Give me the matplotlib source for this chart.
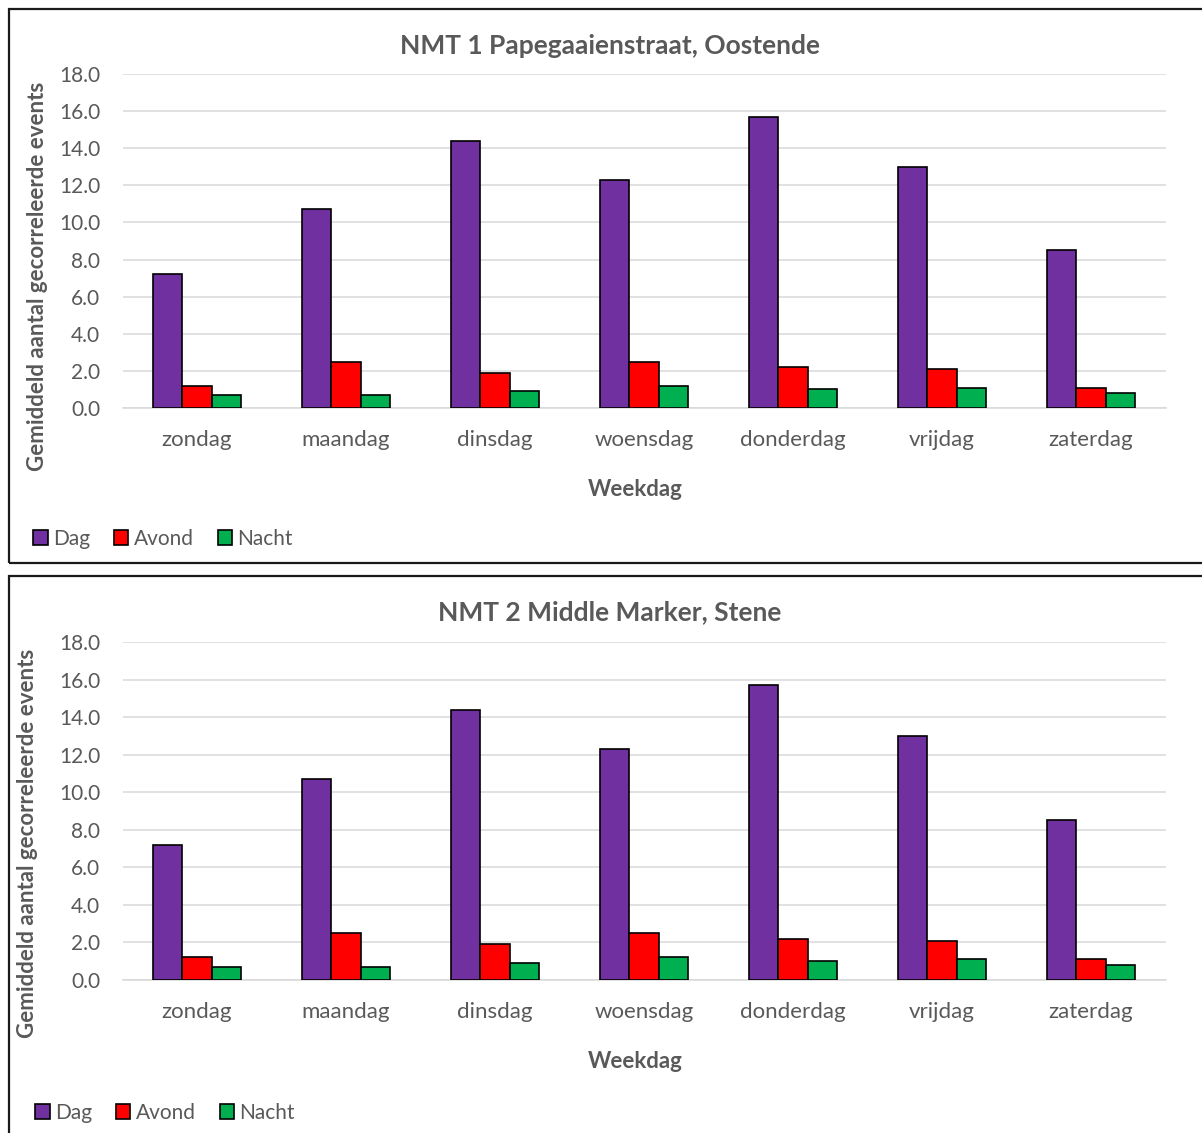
import numpy as np
import matplotlib.pyplot as plt
from matplotlib.patches import Rectangle

plt.rcParams['font.family'] = ['Lato', 'DejaVu Sans']

GRAY_TEXT = '#595959'
GRID = '#D9D9D9'
COLORS = ['#7030A0', '#FF0000', '#00B050']

weekdagen = ['zondag', 'maandag', 'dinsdag', 'woensdag', 'donderdag', 'vrijdag', 'zaterdag']
reeksen = ['Dag', 'Avond', 'Nacht']

# NMT 1 Papegaaienstraat
nmt1_dag = [7.2, 10.7, 14.4, 12.3, 15.7, 13.0, 8.5]
nmt1_avond = [1.2, 2.5, 1.9, 2.5, 2.2, 2.1, 1.1]
nmt1_nacht = [0.7, 0.7, 0.9, 1.2, 1.0, 1.1, 0.8]

# NMT 2 Middle Marker
nmt2_dag = [7.2, 10.7, 14.4, 12.3, 15.7, 13.0, 8.5]
nmt2_avond = [1.2, 2.5, 1.9, 2.5, 2.2, 2.1, 1.1]
nmt2_nacht = [0.7, 0.7, 0.9, 1.2, 1.0, 1.1, 0.8]

y_ticks = [0, 2, 4, 6, 8, 10, 12, 14, 16, 18]

W, H = 1202, 1133


def fx(px):
    return px / W


def fy(py):
    return 1 - py / H


def draw_panel(fig, box, axes_px, title, title_y, ylab_xy, xlab_y, leg, reeks_data):
    # kader rond het paneel
    x0, y0, x1, y1 = box
    fig.patches.append(Rectangle((fx(x0), fy(y1)), fx(x1 - x0), (y1 - y0) / H,
                                 transform=fig.transFigure, fill=False,
                                 edgecolor='#1a1a1a', linewidth=1.6, zorder=0))

    left, top, right, bottom = axes_px
    ax = fig.add_axes([fx(left), fy(bottom), fx(right - left), (bottom - top) / H])

    x = np.arange(len(weekdagen))
    w = 0.195
    for k, (vals, naam) in enumerate(zip(reeks_data, reeksen)):
        ax.bar(x + (k - 1) * w, vals, w, color=COLORS[k], edgecolor='black',
               linewidth=1.2, label=naam, zorder=3)

    ax.set_xlim(-0.5, len(weekdagen) - 0.5)
    ax.set_ylim(0, 18)
    ax.set_yticks(y_ticks)
    ax.set_yticklabels([f'{v:.1f}' for v in y_ticks])
    ax.set_xticks(x)
    ax.set_xticklabels(weekdagen)
    ax.tick_params(axis='y', length=0, pad=16, labelsize=15, labelcolor=GRAY_TEXT)
    ax.tick_params(axis='x', length=0, pad=16, labelsize=16, labelcolor=GRAY_TEXT)
    ax.grid(axis='y', color=GRID, linewidth=1.1, zorder=0)
    ax.set_axisbelow(True)
    for s in ['top', 'right', 'left']:
        ax.spines[s].set_visible(False)
    ax.spines['bottom'].set_color(GRID)
    ax.spines['bottom'].set_linewidth(1.1)

    fig.text(fx(610), fy(title_y), title, ha='center', va='center',
             fontsize=19, fontweight='bold', color=GRAY_TEXT)
    fig.text(fx(ylab_xy[0]), fy(ylab_xy[1]), 'Gemiddeld aantal gecorreleerde events',
             rotation=90, ha='center', va='center', fontsize=16,
             fontweight='bold', color=GRAY_TEXT)
    fig.text(fx(635), fy(xlab_y), 'Weekdag', ha='center', va='center',
             fontsize=16, fontweight='bold', color=GRAY_TEXT)

    lg = fig.legend(*ax.get_legend_handles_labels(), loc='center left',
                    bbox_to_anchor=(fx(leg[0]), fy(leg[1])), ncol=3, frameon=False,
                    fontsize=15, handlelength=0.7, handleheight=0.7,
                    handletextpad=0.25, columnspacing=1.15, borderpad=0,
                    borderaxespad=0)
    for t in lg.get_texts():
        t.set_color(GRAY_TEXT)
    return ax


fig = plt.figure(figsize=(W / 100, H / 100), dpi=100)

draw_panel(fig, (9, 9, 1215, 563), (122.5, 74, 1165.5, 408),
           'NMT 1 Papegaaienstraat, Oostende', 46, (38, 276), 489, (33, 539),
           [nmt1_dag, nmt1_avond, nmt1_nacht])
draw_panel(fig, (9, 576, 1215, 1150), (122.5, 642, 1165.5, 980),
           'NMT 2 Middle Marker, Stene', 612, (28, 843), 1061, (35, 1113),
           [nmt2_dag, nmt2_avond, nmt2_nacht])

fig.savefig('out.png', dpi=100)
